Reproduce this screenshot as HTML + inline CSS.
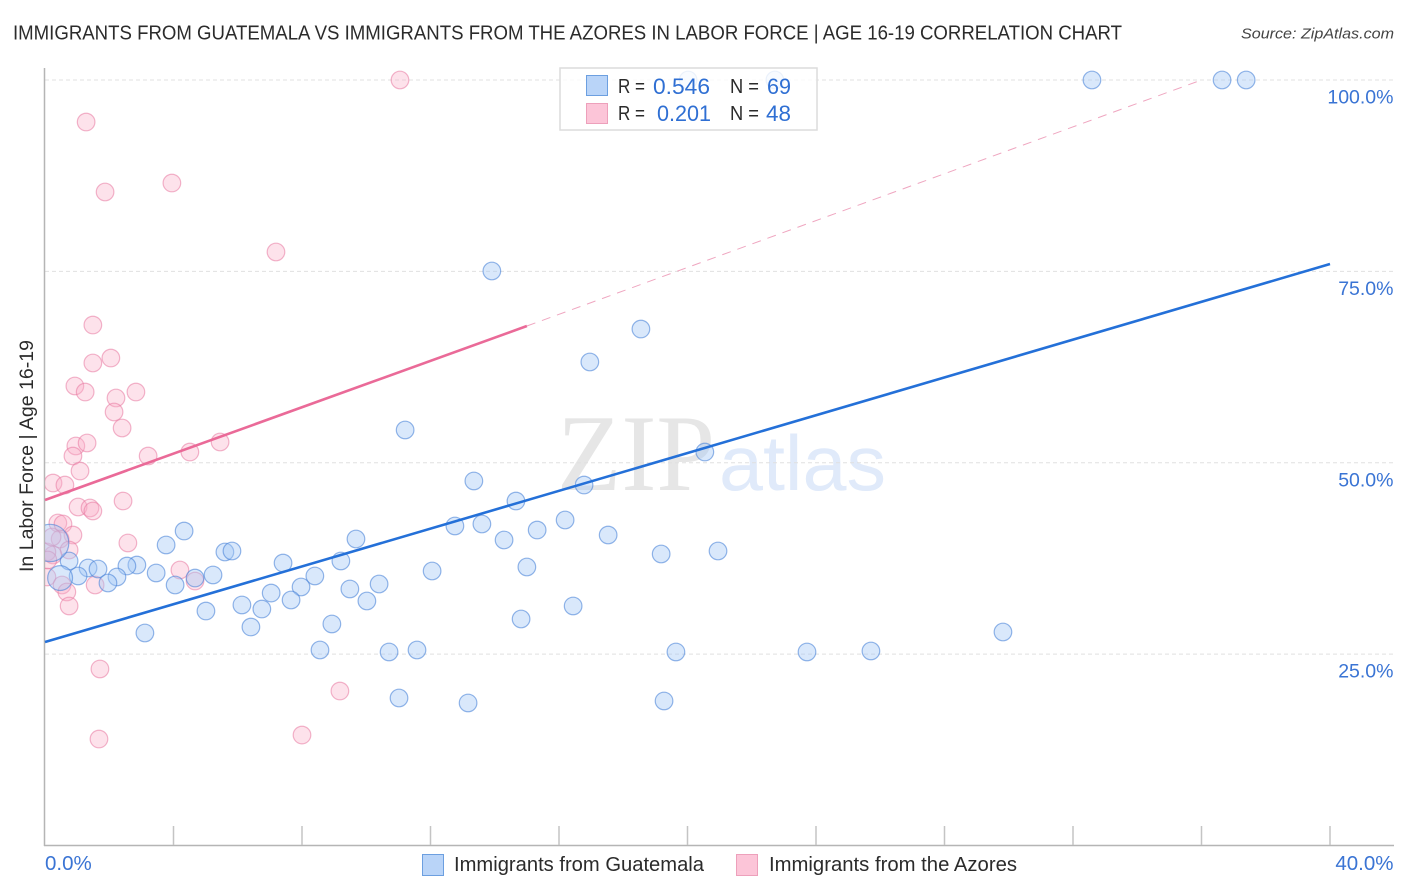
<!DOCTYPE html>
<html lang="en">
<head>
<meta charset="utf-8">
<title>Immigrants from Guatemala vs Immigrants from the Azores in Labor Force | Age 16-19 Correlation Chart</title>
<style>
html,body{margin:0;padding:0;background:#fff;}
body{width:1406px;height:892px;overflow:hidden;}
svg{display:block;font-family:"Liberation Sans",sans-serif;}
</style>
</head>
<body>
<svg id="chart" xmlns="http://www.w3.org/2000/svg" width="1406" height="892" viewBox="0 0 1406 892">
  <defs>
    <clipPath id="plot-clip"><rect x="45" y="60" width="1349" height="790"></rect></clipPath>
  </defs>
  <rect x="0" y="0" width="1406" height="892" fill="#ffffff"></rect>
  <text x="13" y="39.5" font-size="20" fill="#2b2b2b" textLength="1109" lengthAdjust="spacingAndGlyphs">IMMIGRANTS FROM GUATEMALA VS IMMIGRANTS FROM THE AZORES IN LABOR FORCE | AGE 16-19 CORRELATION CHART</text>
  <text x="1241" y="38.5" font-size="15" font-style="italic" fill="#444444" textLength="153" lengthAdjust="spacingAndGlyphs">Source: ZipAtlas.com</text>

  <g>
    <text x="557" y="490" font-family="'Liberation Serif',serif" font-size="109" fill="#e6e6e6" textLength="158" lengthAdjust="spacingAndGlyphs">ZIP</text>
    <text x="719" y="490" font-size="78" fill="#e0eafa" textLength="167" lengthAdjust="spacingAndGlyphs">atlas</text>
  </g>

  <g id="grid"></g>
  <g id="axes"></g>
  <g id="points" clip-path="url(#plot-clip)"></g>
  <g id="trends"></g>

  <text transform="translate(33,456) rotate(-90)" text-anchor="middle" font-size="19" fill="#2b2b2b" textLength="232" lengthAdjust="spacingAndGlyphs">In Labor Force | Age 16-19</text>

  <g>
    <rect x="560" y="68" width="257" height="62" fill="#ffffff" fill-opacity="0.82" stroke="#dcdcdc" stroke-width="1.5"></rect>
    <rect x="586.5" y="75.5" width="21" height="20" fill="#b9d4f8" stroke="#6c9fe0" stroke-width="1"></rect>
    <rect x="586.5" y="103.5" width="21" height="20" fill="#fcc5d8" stroke="#eda0bb" stroke-width="1"></rect>
    <text x="618" y="93" font-size="20" fill="#2b2b2b" textLength="27" lengthAdjust="spacingAndGlyphs">R =</text>
    <text x="653" y="94" font-size="22" fill="#2f6fd3" textLength="57" lengthAdjust="spacingAndGlyphs">0.546</text>
    <text x="730" y="93" font-size="20" fill="#2b2b2b" textLength="29" lengthAdjust="spacingAndGlyphs">N =</text>
    <text x="767" y="94" font-size="22" fill="#2f6fd3" textLength="24" lengthAdjust="spacingAndGlyphs">69</text>
    <text x="618" y="120" font-size="20" fill="#2b2b2b" textLength="27" lengthAdjust="spacingAndGlyphs">R =</text>
    <text x="657" y="121" font-size="22" fill="#2f6fd3" textLength="54" lengthAdjust="spacingAndGlyphs">0.201</text>
    <text x="730" y="120" font-size="20" fill="#2b2b2b" textLength="29" lengthAdjust="spacingAndGlyphs">N =</text>
    <text x="766" y="121" font-size="22" fill="#2f6fd3" textLength="25" lengthAdjust="spacingAndGlyphs">48</text>
  </g>

  <g>
    <rect x="422.5" y="854.5" width="21" height="21" fill="#b9d4f8" stroke="#6c9fe0" stroke-width="1"></rect>
    <text x="454" y="871" font-size="20" fill="#2b2b2b" textLength="250" lengthAdjust="spacingAndGlyphs">Immigrants from Guatemala</text>
    <rect x="736.5" y="854.5" width="21" height="21" fill="#fcc5d8" stroke="#eda0bb" stroke-width="1"></rect>
    <text x="769" y="871" font-size="20" fill="#2b2b2b" textLength="248" lengthAdjust="spacingAndGlyphs">Immigrants from the Azores</text>
  </g>
</svg>
<script>
const xTicks = [0, 4, 8, 12, 16, 20, 24, 28, 32, 36, 40];
const xTickLabels = ["0.0%", "", "", "", "", "", "", "", "", "", "40.0%"];
const yTicks = [100, 75, 50, 25];
const yTickLabels = ["100.0%", "75.0%", "50.0%", "25.0%"];

const guatemalaX = [20.02, 22.72, 32.59, 36.64, 37.39, 13.91, 18.55, 16.96, 11.21, 20.54, 13.35, 16.78, 14.66, 16.19, 12.76, 13.60, 15.32, 14.29, 17.53, 9.68, 4.33, 3.77, 5.60, 5.82, 19.18, 20.95, 7.41, 9.21, 15.00, 12.05, 2.86, 2.55, 1.34, 1.65, 2.24, 1.96, 1.03, 0.75, 3.46, 4.05, 4.67, 5.23, 8.40, 7.04, 7.97, 7.66, 9.49, 10.02, 10.40, 5.01, 6.13, 6.75, 16.44, 14.82, 6.41, 8.93, 3.11, 29.82, 8.56, 10.71, 11.58, 19.64, 23.72, 25.71, 11.02, 13.17, 19.27];
const guatemalaY = [100, 100, 100, 100, 100, 75.05, 67.47, 63.16, 54.28, 51.40, 47.62, 47.09, 45.00, 42.52, 41.74, 42.00, 41.21, 39.91, 40.56, 40.04, 41.08, 39.26, 38.34, 38.47, 38.08, 38.47, 36.90, 37.17, 36.38, 35.86, 36.64, 36.51, 36.25, 36.12, 35.08, 34.29, 35.21, 37.17, 35.60, 34.03, 34.94, 35.34, 35.21, 32.98, 33.77, 32.07, 33.51, 31.94, 34.16, 30.63, 31.42, 30.89, 31.29, 29.59, 28.54, 28.94, 27.76, 27.89, 25.54, 25.28, 25.54, 25.28, 25.28, 25.41, 19.27, 18.62, 18.88];

const guatemalaClusterX = [0.16, 0.47];
const guatemalaClusterY = [39.52, 34.94];
const guatemalaClusterWeight = [4.5, 2];

const azoresX = [11.05, 1.28, 1.87, 3.95, 7.19, 1.49, 1.49, 2.05, 0.93, 1.25, 2.21, 2.83, 2.15, 2.40, 0.96, 1.31, 0.87, 3.21, 4.51, 5.45, 1.09, 0.25, 0.62, 1.03, 1.40, 1.49, 2.43, 0.40, 0.56, 0.87, 0.47, 2.58, 0.75, 0.25, 0.06, 0.22, 0.06, 0.09, 0.53, 0.68, 0.75, 1.56, 4.20, 4.67, 1.71, 1.68, 8.00, 9.18];
const azoresY = [100, 94.51, 85.37, 86.54, 77.53, 67.99, 63.03, 63.68, 60.03, 59.24, 58.46, 59.24, 56.63, 54.54, 52.19, 52.58, 50.88, 50.88, 51.40, 52.71, 48.92, 47.35, 47.09, 44.22, 44.09, 43.70, 45.00, 42.13, 42.00, 40.56, 40.04, 39.52, 38.60, 37.95, 38.34, 40.30, 35.08, 37.30, 34.03, 33.12, 31.29, 34.03, 35.99, 34.55, 23.06, 13.91, 14.43, 20.18];

const guatemalaTrendX = [0, 40];
const guatemalaTrendY = [26.58, 75.96];
const azoresTrendX = [0, 15];
const azoresTrendY = [45.13, 67.86];
const azoresProjectionX = [15, 36];
const azoresProjectionY = [67.86, 100];

const SVG_NS = "http://www.w3.org/2000/svg";
function xScale(v) { return 45 + v * 32.125; }
function yScale(v) { return 845.5 - v * 7.655; }

function make(parent, tag) {
  const el = document.createElementNS(SVG_NS, tag);
  parent.appendChild(el);
  return el;
}

const gridLayer = document.getElementById("grid");
const axesLayer = document.getElementById("axes");
const pointLayer = document.getElementById("points");
const trendLayer = document.getElementById("trends");

yTicks.forEach(function (t, i) {
  const line = make(gridLayer, "line");
  
  
  line.setAttribute("x1", 45);
  line.setAttribute("x2", 1394);
  line.setAttribute("y1", yScale(t));
  line.setAttribute("y2", yScale(t));
  line.setAttribute("stroke", "#e0e0e0");
  line.setAttribute("stroke-width", "1");
  line.setAttribute("stroke-dasharray", "4 3");

  const label = make(axesLayer, "text");
  
  
  label.setAttribute("x", 1393.5);
  label.setAttribute("y", yScale(t) + 23.5);
  label.setAttribute("text-anchor", "end");
  label.setAttribute("font-size", "19.5");
  label.setAttribute("fill", "#3a74d4");
  label.textContent = yTickLabels[i];
});

const yAxis = make(axesLayer, "line");


yAxis.setAttribute("x1", 44.5);
yAxis.setAttribute("x2", 44.5);
yAxis.setAttribute("y1", 68);
yAxis.setAttribute("y2", 846);
yAxis.setAttribute("stroke", "#b5b5b5");
yAxis.setAttribute("stroke-width", "1.5");

const xAxis = make(axesLayer, "line");


xAxis.setAttribute("x1", 44);
xAxis.setAttribute("x2", 1394);
xAxis.setAttribute("y1", 845.5);
xAxis.setAttribute("y2", 845.5);
xAxis.setAttribute("stroke", "#b5b5b5");
xAxis.setAttribute("stroke-width", "1.5");

xTicks.forEach(function (t, i) {
  if (i > 0) {
    const tick = make(axesLayer, "line");
    
    
    tick.setAttribute("x1", xScale(t));
    tick.setAttribute("x2", xScale(t));
    tick.setAttribute("y1", 826);
    tick.setAttribute("y2", 845);
    tick.setAttribute("stroke", "#c4c4c4");
    tick.setAttribute("stroke-width", "1.5");
  }
  if (xTickLabels[i]) {
    const label = make(axesLayer, "text");
    
    
    label.setAttribute("x", i === 0 ? xScale(t) : 1393.5);
    label.setAttribute("y", 870);
    label.setAttribute("text-anchor", i === 0 ? "start" : "end");
    label.setAttribute("font-size", "20.5");
    label.setAttribute("fill", "#3a74d4");
    label.textContent = xTickLabels[i];
  }
});

function drawAzoresPoint(i) {
  const c = make(pointLayer, "circle");
  
  
  c.setAttribute("cx", xScale(azoresX[i]));
  c.setAttribute("cy", yScale(azoresY[i]));
  c.setAttribute("r", 8.8);
  c.setAttribute("fill", "rgba(250,175,200,0.36)");
  c.setAttribute("stroke", "rgba(232,120,160,0.55)");
  c.setAttribute("stroke-width", "1.2");
}
function drawGuatemalaPoint(px, py, weight) {
  const c = make(pointLayer, "circle");
  
  
  c.setAttribute("cx", xScale(px));
  c.setAttribute("cy", yScale(py));
  c.setAttribute("r", 8.8 * Math.sqrt(weight));
  c.setAttribute("fill", "rgba(165,200,245,0.42)");
  c.setAttribute("stroke", "rgba(70,130,215,0.58)");
  c.setAttribute("stroke-width", "1.2");
}
azoresX.forEach(function (_, i) { drawAzoresPoint(i); });
guatemalaX.forEach(function (_, i) { drawGuatemalaPoint(guatemalaX[i], guatemalaY[i], 1); });
guatemalaClusterX.forEach(function (_, i) { drawGuatemalaPoint(guatemalaClusterX[i], guatemalaClusterY[i], guatemalaClusterWeight[i]); });

const projection = make(trendLayer, "line");


projection.setAttribute("x1", xScale(azoresProjectionX[0]));
projection.setAttribute("x2", xScale(azoresProjectionX[1]));
projection.setAttribute("y1", yScale(azoresProjectionY[0]));
projection.setAttribute("y2", yScale(azoresProjectionY[1]));
projection.setAttribute("stroke", "#efa6c0");
projection.setAttribute("stroke-width", "1");
projection.setAttribute("stroke-dasharray", "9 7");

const azoresTrend = make(trendLayer, "line");


azoresTrend.setAttribute("x1", xScale(azoresTrendX[0]));
azoresTrend.setAttribute("x2", xScale(azoresTrendX[1]));
azoresTrend.setAttribute("y1", yScale(azoresTrendY[0]));
azoresTrend.setAttribute("y2", yScale(azoresTrendY[1]));
azoresTrend.setAttribute("stroke", "#ea6a98");
azoresTrend.setAttribute("stroke-width", "2.6");

const guatemalaTrend = make(trendLayer, "line");


guatemalaTrend.setAttribute("x1", xScale(guatemalaTrendX[0]));
guatemalaTrend.setAttribute("x2", xScale(guatemalaTrendX[1]));
guatemalaTrend.setAttribute("y1", yScale(guatemalaTrendY[0]));
guatemalaTrend.setAttribute("y2", yScale(guatemalaTrendY[1]));
guatemalaTrend.setAttribute("stroke", "#2470d8");
guatemalaTrend.setAttribute("stroke-width", "2.6");
</script>
</body>
</html>
